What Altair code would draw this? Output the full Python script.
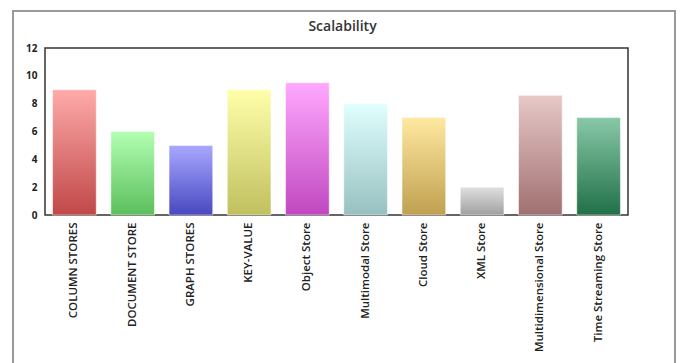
import altair as alt
import pandas as pd

categories = ["COLUMN STORES", "DOCUMENT STORE", "GRAPH STORES", "KEY-VALUE",
              "Object Store", "Multimodal Store", "Cloud Store", "XML Store",
              "Multidimensional Store", "Time Streaming Store"]
values = [9, 6, 5, 9, 9.5, 8, 7, 2, 8.6, 7]
top_colors = ["#FFAAAA", "#B2FFB2", "#A8A8FF", "#FFFFAA", "#FFA8FF",
              "#E0FFFF", "#FFE8A0", "#E0E0E0", "#E8C8C8", "#88C8A8"]
bottom_colors = ["#C04848", "#5CBF5C", "#4848C0", "#C0C060", "#C048C0",
                 "#98C0C0", "#C0A050", "#A0A0A0", "#A07070", "#207048"]

df = pd.DataFrame({"category": categories, "value": values})

x_enc = alt.X("category:N", sort=categories, title=None,
              scale=alt.Scale(paddingInner=0.25, paddingOuter=0.13),
              axis=alt.Axis(labelAngle=270, ticks=False, domain=False,
                            labelFont="Open Sans", labelFontWeight=600,
                            labelFontSize=11.5, labelColor="#222", labelPadding=7,
                            labelLimit=200))
y_enc = alt.Y("value:Q", title=None,
              scale=alt.Scale(domain=[0, 12]),
              axis=alt.Axis(values=[0, 2, 4, 6, 8, 10, 12], grid=False, ticks=False,
                            domain=False, labelFont="Open Sans", labelFontWeight="bold",
                            labelFontSize=10, labelColor="#222", labelPadding=8))

layers = []
for c, t, b in zip(categories, top_colors, bottom_colors):
    grad = alt.Gradient(gradient="linear",
                        stops=[alt.GradientStop(color=t, offset=0),
                               alt.GradientStop(color=b, offset=1)],
                        x1=0, x2=0, y1=0, y2=1)
    layers.append(
        alt.Chart(df).transform_filter(alt.datum.category == c)
        .mark_bar(color=grad, stroke="white", strokeOpacity=0.5, strokeWidth=1)
        .encode(x=x_enc, y=y_enc)
    )

frame = alt.Chart(df).mark_rect(fill=None, stroke="#999999", strokeWidth=1.5, clip=False).encode(
    x=alt.value(-32), x2=alt.value(630), y=alt.value(-37), y2=alt.value(400)
)

chart = alt.layer(frame, *layers).properties(
    width=583, height=167,
    title=alt.TitleParams("Scalability", font="Open Sans", fontSize=14, fontWeight=600,
                          color="#333", anchor="middle", offset=-24, dx=6, frame="group"),
    autosize=alt.AutoSizeParams(type="none"),
    padding={"left": 45, "top": 48, "right": 52, "bottom": 148},
).configure_view(stroke="#333333", strokeWidth=1.5)

chart.save("out.html", embed_options={"renderer": "svg", "actions": False})
